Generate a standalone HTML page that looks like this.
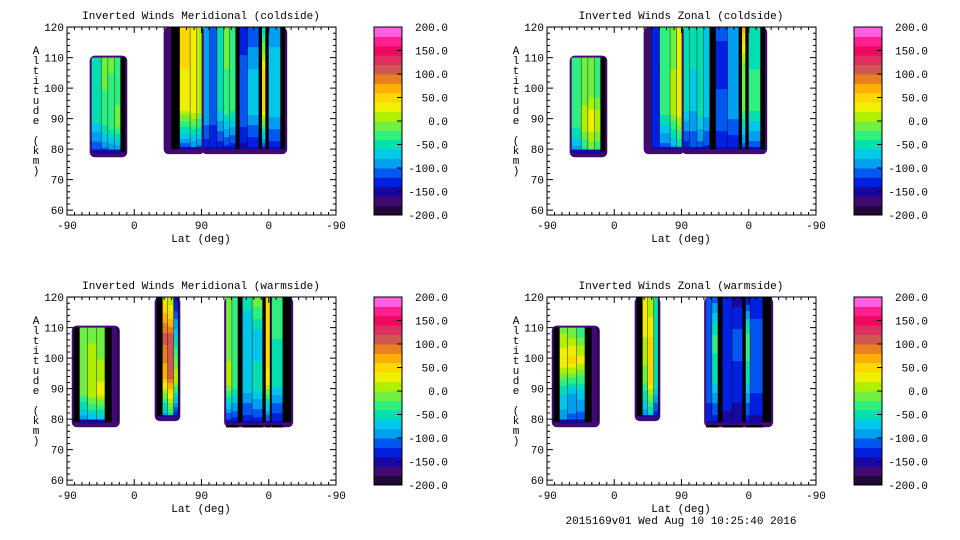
<!DOCTYPE html>
<html><head><meta charset="utf-8"><style>
body{margin:0;background:#fff;width:960px;height:540px;overflow:hidden}
svg{display:block}
text{font-family:"Liberation Mono",monospace;font-size:11px;fill:#000}
</style></head><body>
<svg id="chart" width="960" height="540"></svg>
<script>
// ---- data ----
const xTickLabels = ["-90","0","90","0","-90"];
const xTickUnits = [0,90,180,270,360];
const altTicks = [60,70,80,90,100,110,120];
const cbarLabels = ["200.0","150.0","100.0","50.0","0.0","-50.0","-100.0","-150.0","-200.0"];
const levelColors = ["#200838","#400a70","#1808a0","#0020e0","#0058f0","#00a0f0","#00c8e8","#00e0b0","#30f080","#70f040","#b0f000","#f0f000","#ffd800","#ffb000","#e88020","#d05850","#e03060","#f00860","#ff2090","#ff60e0"];
const panelTitles = ["Inverted Winds Meridional (coldside)","Inverted Winds Zonal (coldside)","Inverted Winds Meridional (warmside)","Inverted Winds Zonal (warmside)"];
const panelOffsets = [[0,0],[480,0],[0,270],[480,270]];
// blobs: [latStart, latEnd, altBottom, altTop]; columns: [latStart, latEnd, values(low->high alt) or null=dense contours]
const p1Blobs = [[33,78,78,110],[132,181,79,120],[183,292,79,120]];
const p1Cols = [
 [[33,46,[-130,-60,-50,-40]],[46,55,[-120,-30,-20,0]],[55,64,[-110,-20,-30,-10]],[64,72,[-110,0,-40,-40]],[72,78,null]],
 [[132,140,[-170,-170,-170,-170]],[140,151,null],[151,165,[-130,20,40,40]],[165,174,[-120,30,30,20]],[174,181,[-120,10,10,10]]],
 [[183,191,[-140,-80,-100,-80]],[191,201,[-140,-110,-120,-100]],[201,210,[-140,-60,-50,-40]],[210,218,[-140,-30,-20,-10]],[218,226,[-140,-40,-30,-30]],[226,231,null],[231,242,[-150,-100,-110,-140]],[242,257,[-150,-70,-80,-120]],[257,261,null],[261,266,[-140,40,40,-60]],[266,270,null],[270,286,[-140,-70,-70,-90]],[286,292,null]]
];
const p2Blobs = [[33,78,78,110],[132,181,79,120],[183,292,79,120]];
const p2Cols = [
 [[33,46,[-100,-30,-40,-30]],[46,55,[-60,20,-20,-20]],[55,64,[-30,40,-10,-20]],[64,72,[-50,20,-30,-40]],[72,78,null]],
 [[132,140,[-170,-170,-170,-170]],[140,151,[-140,-140,-130,-140]],[151,165,[-120,-30,-20,-30]],[165,174,[-100,10,0,-10]],[174,181,[-80,40,30,20]]],
 [[183,191,[-140,-60,-50,-40]],[191,201,[-120,-80,-60,-60]],[201,210,[-120,-50,-60,-40]],[210,218,[-130,-70,-80,-60]],[218,226,null],[226,242,[-140,-100,-140,-110]],[242,257,[-140,-90,-100,-80]],[257,261,null],[261,266,[-120,-20,-10,70]],[266,270,null],[270,286,[-120,-40,-40,-50]],[286,292,null]]
];
const p3Blobs = [[9,68,78,110],[120,149,80,120],[213,300,78,120]];
const p3Cols = [
 [[9,17,null],[17,28,[-110,-10,0,-20]],[28,40,[-100,20,10,-10]],[40,51,[-100,30,0,-20]],[51,60,null],[60,68,[-170,-170,-170,-170]]],
 [[120,128,null],[128,135,[-100,60,110,30]],[135,143,[-60,100,110,0]],[143,149,[-150,20,-60,-150]]],
 [[213,221,[-140,10,-10,-20]],[221,229,[-140,-20,-30,-40]],[229,235,null],[235,248,[-140,-60,-80,-50]],[248,262,[-140,-40,-80,0]],[262,266,null],[266,272,[-140,30,60,40]],[272,274,null],[274,289,[-150,-50,-40,-40]],[289,300,null]]
];
const p4Blobs = [[9,68,78,110],[120,149,80,120],[213,300,78,120]];
const p4Cols = [
 [[9,17,null],[17,28,[-100,-60,40,-10]],[28,40,[-110,-80,50,-20]],[40,51,[-120,-70,30,-40]],[51,60,null],[60,68,[-170,-170,-170,-170]]],
 [[120,128,null],[128,135,[-100,-10,20,40]],[135,143,[-80,60,40,0]],[143,149,[-140,-40,-60,-60]]],
 [[213,221,[-140,-100,-120,-120]],[221,229,[-140,-60,-30,-110]],[229,235,null],[235,248,[-150,-120,-130,-140]],[248,262,[-150,-130,-110,-150]],[262,266,null],[266,272,[-140,-60,-20,-140]],[272,289,[-150,-110,-100,-140]],[289,300,null]]
];
const allBlobs = [p1Blobs,p2Blobs,p3Blobs,p4Blobs];
const allCols = [p1Cols,p2Cols,p3Cols,p4Cols];
</script>
<script>
const NS="http://www.w3.org/2000/svg";
const svg=document.getElementById('chart');
function mk(tag,attrs,parent){const e=document.createElementNS(NS,tag);for(const k in attrs)e.setAttribute(k,attrs[k]);(parent||svg).appendChild(e);return e;}
function colorFor(v){let i=Math.floor((v+200)/20);i=Math.max(0,Math.min(levelColors.length-1,i));return levelColors[i];}
panelOffsets.forEach((off,pi)=>{
  const ox=off[0],oy=off[1];
  const X0=ox+67,X1=ox+336,Y0=oy+27,Y1=oy+215;
  const xs=u=>X0+u*(X1-X0)/360;
  const ys=a=>Y1-(a-58.4)*3.05;
  const g=mk('g',{});
  
  
  const t=mk('text',{x:ox+201,y:oy+19,'text-anchor':'middle'},g);t.textContent=panelTitles[pi];
  
  const plot=mk('g',{},g);
  
  allBlobs[pi].forEach((b,bi)=>{
    const top=Math.min(b[3],120);
    const bx0=xs(b[0]),bx1=xs(b[1]),by0=ys(top),by1=ys(b[2]);
    const r1=mk('rect',{x:bx0-2,y:by0-(top>=120?0:2),width:bx1-bx0+4,height:by1-by0+2+(top>=120?0:2),rx:5,fill:'#400a70'},plot);
    
    allCols[pi][bi].forEach(c=>{
      const cx0=xs(c[0]),cx1=xs(c[1]);
      if(!c[2]){const r=mk('rect',{x:cx0,y:by0,width:cx1-cx0,height:by1-by0-3,fill:'#000'},plot);
        return;}
      const vals=c[2],n=vals.length;
      const h=by1-by0;
      for(let yy=0;yy<h;yy+=2){
        const f=1-(yy+1)/h;
        const p=f*(n-1);const i=Math.min(n-2,Math.floor(p));const fr=p-i;
        let v=vals[i]*(1-fr)+vals[i+1]*fr;
        if(yy>h-6)v=Math.min(v,-150-(yy-(h-6))*4);
        const r=mk('rect',{x:cx0,y:by0+yy,width:cx1-cx0+0.3,height:2.3,fill:colorFor(v)},plot);
        
      }
      const l=mk('line',{x1:cx1,x2:cx1,y1:by0,y2:by1-4,stroke:'#000','stroke-width':0.8},plot);
      
    });
  });
  const box=mk('rect',{x:X0,y:Y0,width:X1-X0,height:Y1-Y0,fill:'none',stroke:'#000','stroke-width':1},g);
  
  for(let u=0;u<=360;u+=10){const major=u%90===0;const L=major?6:3;
    mk('line',{x1:xs(u),x2:xs(u),y1:Y1,y2:Y1-L,stroke:'#000'},g);mk('line',{x1:xs(u),x2:xs(u),y1:Y0,y2:Y0+L,stroke:'#000'},g);}
  xTickUnits.forEach((u,i)=>{const tt=mk('text',{x:xs(u),y:Y1+14,'text-anchor':'middle'},g);tt.textContent=xTickLabels[i];
    });
  for(let a=60;a<=120;a+=2){const major=a%10===0;const L=major?6:3;
    mk('line',{x1:X0,x2:X0+L,y1:ys(a),y2:ys(a),stroke:'#000'},g);mk('line',{x1:X1,x2:X1-L,y1:ys(a),y2:ys(a),stroke:'#000'},g);}
  altTicks.forEach(a=>{const tt=mk('text',{x:X0-3,y:ys(a)+4,'text-anchor':'end'},g);tt.textContent=a;
    });
  const xl=mk('text',{x:ox+201,y:oy+242,'text-anchor':'middle'},g);xl.textContent='Lat (deg)';
  
  const yl=mk('text',{x:ox+36,'text-anchor':'middle'},g);
  
  'Altitude (km)'.split('').forEach((ch,i)=>{const s=mk('tspan',{x:ox+36,y:oy+54+i*10},yl);s.textContent=ch;});
  const cb=mk('g',{},g);
  const CX=ox+374,CW=28,n=levelColors.length,bh=(Y1-Y0)/n;
  levelColors.forEach((c,i)=>{const r=mk('rect',{x:CX,y:Y1-(i+1)*bh,width:CW,height:bh+0.5,fill:c},cb);
    });
  mk('rect',{x:CX,y:Y0,width:CW,height:Y1-Y0,fill:'none',stroke:'#000'},cb);
  cbarLabels.forEach((s,i)=>{const y=Y0+i*(Y1-Y0)/8;
    mk('line',{x1:CX+CW-5,x2:CX+CW,y1:y,y2:y,stroke:'#000'},cb);
    const tt=mk('text',{x:ox+448,y:y+4,'text-anchor':'end'},cb);tt.textContent=s;
    });
});
const ft=mk('text',{x:681,y:524,'text-anchor':'middle'});ft.textContent='2015169v01 Wed Aug 10 10:25:40 2016';


</script>
</body></html>
